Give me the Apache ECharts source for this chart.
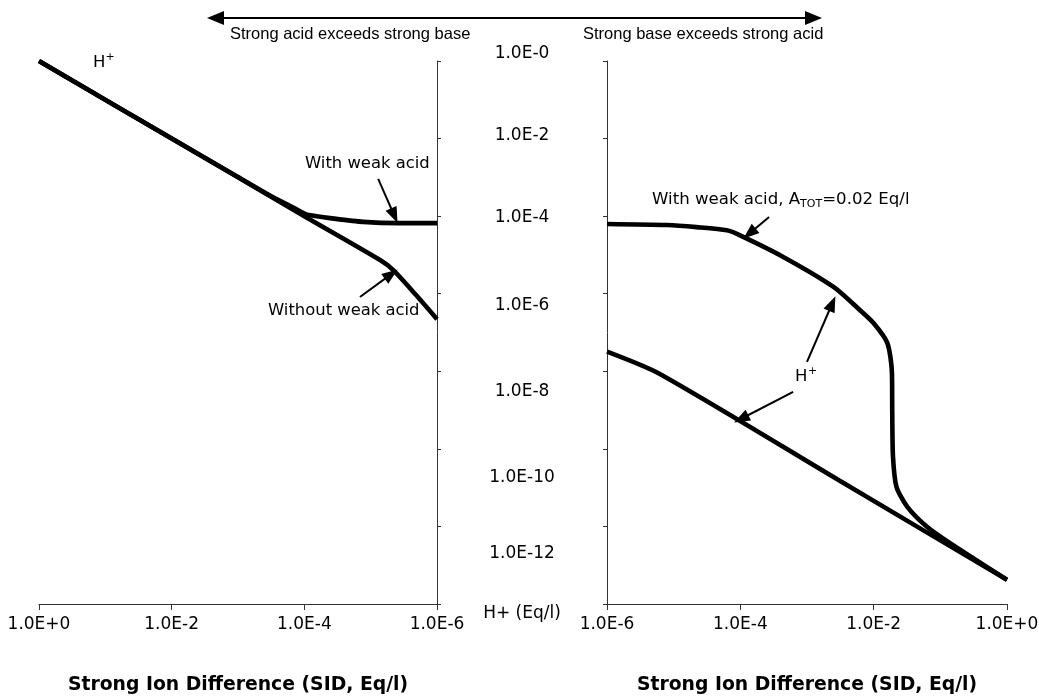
<!DOCTYPE html>
<html><head><meta charset="utf-8">
<script src="https://cdn.jsdelivr.net/npm/echarts@6/dist/echarts.min.js"></script>
<style>html,body{margin:0;padding:0;background:#fff}#c{width:1039px;height:696px}</style>
</head><body><div id="c"></div><script>
// ---- tick values and labels ----
const sidTicksAcid = [1, 1e-2, 1e-4, 1e-6];
const sidTickLabelsAcid = ['1.0E+0', '1.0E-2', '1.0E-4', '1.0E-6'];
const sidTicksBase = [1e-6, 1e-4, 1e-2, 1];
const sidTickLabelsBase = ['1.0E-6', '1.0E-4', '1.0E-2', '1.0E+0'];
const hTicks = [1, 1e-2, 1e-4, 1e-6, 1e-8, 1e-10, 1e-12, 1e-14];
const hTickLabels = ['1.0E-0', '1.0E-2', '1.0E-4', '1.0E-6', '1.0E-8', '1.0E-10', '1.0E-12', 'H+ (Eq/l)'];

// ---- strong acid exceeds strong base (left panel) ----
const acidWeakSID = [1, 1e-2, 1e-3, 3.2e-4, 1.6e-4, 1e-4, 8.1e-5, 4.1e-5, 1.3e-5, 3.6e-6, 1e-6];
const acidWeakH   = [1, 1e-2, 1.02e-3, 3.3e-4, 1.8e-4, 1.17e-4, 1.05e-4, 8.9e-5, 7.1e-5, 6.6e-5, 6.6e-5];
const acidNoWeakSID = [1, 1e-2, 1e-4, 7.2e-6, 4.6e-6, 2.1e-6, 1e-6];
const acidNoWeakH   = [1, 1e-2, 1e-4, 7.4e-6, 4.1e-6, 9.5e-7, 2.2e-7];

// ---- strong base exceeds strong acid (right panel) ----
const baseWeakSID = [1e-6, 7.9e-6, 2.2e-5, 6.3e-5, 9.9e-5, 4.4e-4, 2.5e-3, 6.2e-3, 9.8e-3, 1.6e-2, 1.88e-2, 1.9e-2, 1.95e-2, 2.2e-2, 3.2e-2, 6.3e-2, 1.4e-1, 1];
const baseWeakH   = [6.3e-5, 5.9e-5, 5.2e-5, 4.3e-5, 3.2e-5, 8.9e-6, 1.5e-6, 3.8e-7, 1.8e-7, 5.4e-8, 9.1e-9, 8.5e-10, 6.2e-11, 1.05e-11, 3.2e-12, 9.8e-13, 3.7e-13, 4.2e-14];
const baseNoWeakSID = [1e-6, 6.2e-6, 3.1e-3, 1];
const baseNoWeakH   = [3.2e-8, 8.5e-9, 1.5e-11, 4.2e-14];

// ---- annotation arrows (data coordinates: [SID, H]) ----
const arrowsAcid = [
  [[7.7e-6, 9.1e-4], [4.4e-6, 1.03e-4]],
  [[1.45e-5, 8.2e-7], [4.9e-6, 3.2e-6]]
];
const arrowsBase = [
  [[2.7e-4, 9.5e-5], [1.37e-4, 3.57e-5]],
  [[1e-3, 1.74e-8], [2.39e-3, 5.6e-7]],
  [[6.2e-4, 2.93e-9], [1.03e-4, 5.97e-10]]
];

// style: vertical shift of the central H+ labels (px, positive = down)
const hLabelShift = [-7.5, -2.8, 1.5, 11.5, 20.5, 28.9, 27.5, 9.8];

const zip = (a, b) => a.map((v, i) => [v, b[i]]);
const FONT = 'DejaVu Sans';
const idxOf = (arr, v) => {
  for (let i = 0; i < arr.length; i++) if (Math.abs(Math.log10(arr[i]) - Math.log10(v)) < 1e-6) return i;
  return -1;
};

const rich = {};
hLabelShift.forEach((d, i) => {
  rich['l' + i] = {
    fontFamily: FONT, fontSize: 17, color: '#000',
    padding: [d > 0 ? 2 * d : 0, 0, d < 0 ? -2 * d : 0, 0]
  };
});

const axisLineStyle = { lineStyle: { color: '#333', width: 1 } };

function xAxisCfg(gridIndex, ticks, labels, inverse) {
  return {
    type: 'log', logBase: 10, gridIndex: gridIndex,
    min: 1e-6, max: 1, inverse: inverse,
    axisLine: Object.assign({ show: true, onZero: false }, axisLineStyle),
    axisTick: { show: true, length: 6, customValues: ticks, lineStyle: { color: '#333' } },
    minorTick: { show: false },
    splitLine: { show: false },
    axisLabel: {
      customValues: ticks, margin: 12.5, fontFamily: FONT, fontSize: 17, color: '#000',
      formatter: v => { const i = idxOf(ticks, v); return i >= 0 ? labels[i] : ''; }
    },
    name: 'Strong Ion Difference (SID, Eq/l)', nameLocation: 'middle', nameGap: 71.5,
    nameTextStyle: { fontFamily: FONT, fontWeight: 'bold', fontSize: 18.8, color: '#000' }
  };
}

function yAxisCfg(gridIndex, position, showLabels) {
  return {
    type: 'log', logBase: 10, gridIndex: gridIndex, position: position,
    min: 1e-14, max: 1,
    axisLine: Object.assign({ show: true, onZero: false }, axisLineStyle),
    axisTick: { show: true, length: 4, customValues: hTicks, lineStyle: { color: '#333' } },
    minorTick: { show: false },
    splitLine: { show: false },
    axisLabel: {
      show: showLabels, customValues: hTicks, margin: 85, align: 'center',
      fontFamily: FONT, fontSize: 17, color: '#000', rich: rich,
      formatter: v => { const i = idxOf(hTicks, v); return i >= 0 ? '{l' + i + '|' + hTickLabels[i] + '}' : ''; }
    }
  };
}

function arrowMarkLine(list) {
  return {
    silent: true, animation: false,
    symbol: ['none', 'triangle'], symbolSize: [12, 16],
    label: { show: false },
    lineStyle: { color: '#000', width: 2, type: 'solid' },
    emphasis: { disabled: true },
    data: list.map(a => [{ coord: a[0] }, { coord: a[1] }])
  };
}

const lineSeries = (name, xi, data, ml) => ({
  name: name, type: 'line', xAxisIndex: xi, yAxisIndex: xi,
  data: data, smooth: 0.25, showSymbol: false, symbol: 'none',
  lineStyle: { color: '#000', width: 4.6 }, itemStyle: { color: '#000' },
  emphasis: { disabled: true }, z: 3,
  markLine: ml
});

const txt = (x, y, text, size, family, extra) => ({
  type: 'text', x: x, y: y, silent: true,
  style: Object.assign({ text: text, fill: '#000', fontSize: size, fontFamily: family || FONT, align: 'left', verticalAlign: 'middle' }, extra || {})
});

const chart = echarts.init(document.getElementById('c'), null, { renderer: 'canvas' });
chart.setOption({
  animation: false,
  backgroundColor: '#fff',
  grid: [
    { left: 39, top: 61, width: 398, height: 543, outerBoundsMode: 'none', containLabel: false },
    { left: 607, top: 61, width: 400, height: 543, outerBoundsMode: 'none', containLabel: false }
  ],
  xAxis: [
    xAxisCfg(0, sidTicksAcid, sidTickLabelsAcid, true),
    xAxisCfg(1, sidTicksBase, sidTickLabelsBase, false)
  ],
  yAxis: [
    yAxisCfg(0, 'right', false),
    yAxisCfg(1, 'left', true)
  ],
  series: [
    lineSeries('Acid, with weak acid', 0, zip(acidWeakSID, acidWeakH), arrowMarkLine(arrowsAcid)),
    lineSeries('Acid, without weak acid', 0, zip(acidNoWeakSID, acidNoWeakH)),
    lineSeries('Base, with weak acid', 1, zip(baseWeakSID, baseWeakH), arrowMarkLine(arrowsBase)),
    lineSeries('Base, without weak acid', 1, zip(baseNoWeakSID, baseNoWeakH))
  ],
  graphic: [
    { type: 'line', silent: true, shape: { x1: 220, y1: 18, x2: 810, y2: 18 }, style: { stroke: '#000', lineWidth: 2 } },
    { type: 'polygon', silent: true, shape: { points: [[207, 18], [224, 11], [224, 25]] }, style: { fill: '#000' } },
    { type: 'polygon', silent: true, shape: { points: [[822, 18], [805, 11], [805, 25]] }, style: { fill: '#000' } },
    txt(230, 34, 'Strong acid exceeds strong base', 16.5, 'Liberation Sans'),
    txt(583, 34, 'Strong base exceeds strong acid', 16.5, 'Liberation Sans'),
    txt(93, 63, 'H', 16.5),
    txt(105.5, 57, '+', 11),
    txt(305, 164, 'With weak acid', 16.4),
    txt(268, 311, 'Without weak acid', 16.4),
    txt(795, 377, 'H', 16.5),
    txt(808, 371, '+', 11),
    {
      type: 'text', x: 652, y: 200, silent: true,
      style: {
        text: '{m|With weak acid, A}{s|TOT}{m|=0.02 Eq/l}', align: 'left', verticalAlign: 'middle',
        rich: {
          m: { fontFamily: FONT, fontSize: 16.6, fill: '#000', lineHeight: 20 },
          s: { fontFamily: FONT, fontSize: 11, fill: '#000', verticalAlign: 'bottom', lineHeight: 12 }
        }
      }
    }
  ]
});
</script></body></html>
